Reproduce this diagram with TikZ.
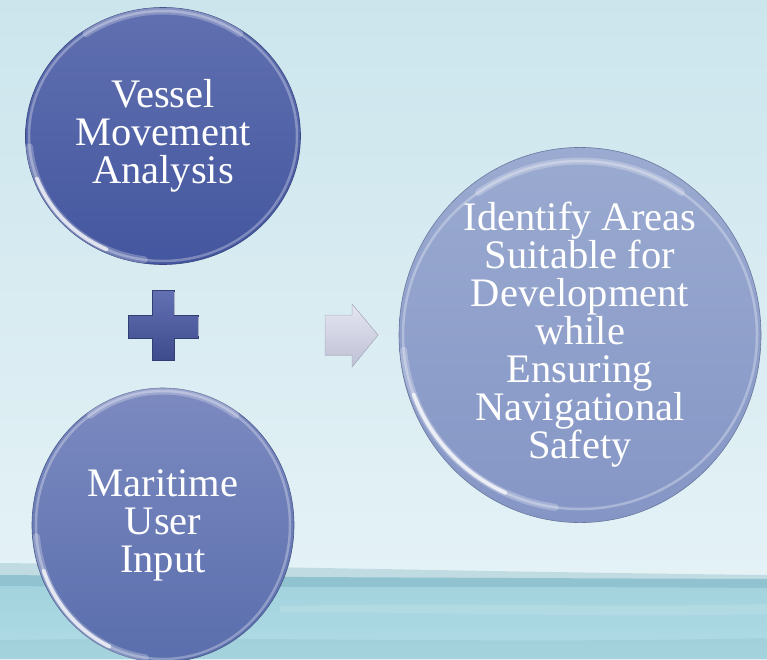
\documentclass[tikz,border=0pt]{standalone}
\usepackage{fontspec}
\setmainfont{Liberation Serif}
\usepackage{tikz}
\usetikzlibrary{shapes.geometric}

\definecolor{skytop}{HTML}{CCE5ED}
\definecolor{skylow}{HTML}{E4F2F6}
\definecolor{seagrey}{HTML}{C0DBE1}
\definecolor{seadark}{HTML}{90C3CF}
\definecolor{seamid}{HTML}{A3D3DE}
\definecolor{sealow}{HTML}{B0DCE5}
\definecolor{darkblob}{HTML}{44569F}
\definecolor{darkblobtop}{HTML}{6070B0}
\definecolor{midblob}{HTML}{5A6EAD}
\definecolor{midblobtop}{HTML}{7C8AC0}
\definecolor{paleblob}{HTML}{8596C6}
\definecolor{paleblobtop}{HTML}{9AAAD0}
\definecolor{plusblue}{HTML}{4858A6}
\definecolor{arrowgrey}{HTML}{D3D5EB}

\tikzset{
  bubble/.style={ellipse, inner sep=0pt, outer sep=0pt, text=white, align=center,
    font=\fontsize{40.5}{38}\selectfont},
  gloss/.style={white, line width=4pt, opacity=0.7, line cap=round},
  halo/.style={white, line width=7pt, opacity=0.25, line cap=round},
  rim/.style={white, line width=2.5pt, opacity=0.3},
}

\begin{document}
\begin{tikzpicture}[x=1pt,y=1pt]

\useasboundingbox (0,0) rectangle (767,-659);
\clip (0,0) rectangle (767,-659);

% sky and sea
\shade [top color=skytop, bottom color=skylow] (0,0) rectangle (767,-580);
\fill [seagrey] (0,-563) .. controls (250,-566) and (500,-572) .. (767,-575) -- (767,-659) -- (0,-659) -- cycle;
\fill [seadark] (0,-575) .. controls (250,-577) and (500,-578) .. (767,-579) -- (767,-659) -- (0,-659) -- cycle;
\shade [top color=seamid, bottom color=sealow] (0,-586) .. controls (250,-588) and (500,-586) .. (767,-588) -- (767,-659) -- (0,-659) -- cycle;
\fill [white, opacity=0.12] (280,-606) .. controls (450,-602) and (600,-608) .. (767,-604) -- (767,-614) .. controls (600,-618) and (450,-612) .. (280,-612) -- cycle;
\fill [seadark, opacity=0.35] (0,-640) .. controls (250,-636) and (500,-644) .. (767,-638) -- (767,-659) -- (0,-659) -- cycle;

% the three bubbles
\node [bubble, minimum width=275, minimum height=257,
       top color=darkblobtop, bottom color=darkblob, draw=darkblob!80!black, line width=0.6pt]
  (vessel) at (163,-136) {Vessel\\Movement\\Analysis};
\node [bubble, minimum width=262, minimum height=274,
       top color=midblobtop, bottom color=midblob, draw=midblob!80!black, line width=0.6pt]
  (maritime) at (163,-525) {Maritime\\User\\Input};
\node [bubble, minimum width=362, minimum height=356,
       top color=paleblobtop, bottom color=paleblob, draw=paleblob!80!black, line width=0.6pt]
  (identify) at (580,-335) {Identify Areas\\Suitable for\\Development\\while\\Ensuring\\Navigational\\Safety};

\foreach \n/\a/\b in {vessel/134/125, maritime/127/134, identify/177/174}
{
    \draw [rim] (\n.center) ellipse [x radius=\a, y radius=\b];
    \draw [halo] ([shift={(185:{\a} and {\b})}]\n.center) arc [start angle=185, end angle=262, x radius=\a, y radius=\b];
    \draw [gloss] ([shift={(200:{\a} and {\b})}]\n.center) arc [start angle=200, end angle=245, x radius=\a, y radius=\b];
    \draw [halo] ([shift={(55:{\a} and {\b})}]\n.center) arc [start angle=55, end angle=125, x radius=\a, y radius=\b];
}

% plus sign
\fill [top color=plusblue!85!white, bottom color=plusblue!85!black, draw=plusblue!70!black, line width=0.5pt]
  (152,-290) -- (174,-290) -- (174,-315) -- (198,-315) -- (198,-338) -- (174,-338) -- (174,-360)
  -- (152,-360) -- (152,-338) -- (128,-338) -- (128,-315) -- (152,-315) -- cycle;
\draw [white, opacity=0.6, line width=1pt] (174,-292) -- (174,-315) (198,-317) -- (198,-336);

% arrow
\fill [top color=arrowgrey!60!white, bottom color=arrowgrey!90!black, draw=arrowgrey!85!black, line width=0.5pt]
  (325,-315) -- (352,-315) -- (352,-304) -- (378,-335) -- (352,-367) -- (352,-355) -- (325,-355) -- cycle;

\end{tikzpicture}
\end{document}
